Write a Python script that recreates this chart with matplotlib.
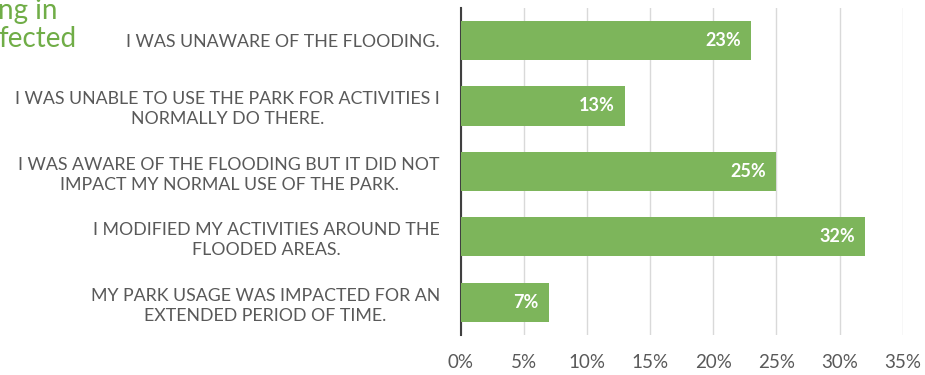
import matplotlib
matplotlib.use("Agg")
import matplotlib.pyplot as plt

# Data (top to bottom as shown in the chart)
answers = [
    "I WAS UNAWARE OF THE FLOODING.",
    "I WAS UNABLE TO USE THE PARK FOR ACTIVITIES I\nNORMALLY DO THERE.",
    "I WAS AWARE OF THE FLOODING BUT IT DID NOT\nIMPACT MY NORMAL USE OF THE PARK.",
    "I MODIFIED MY ACTIVITIES AROUND THE\nFLOODED AREAS.",
    "MY PARK USAGE WAS IMPACTED FOR AN\nEXTENDED PERIOD OF TIME.",
]
percents = [23, 13, 25, 32, 7]
xticks = [0, 5, 10, 15, 20, 25, 30, 35]

bar_color = "#7DB55B"
text_color = "#595959"

plt.rcParams["font.family"] = ["Lato", "DejaVu Sans"]

fig = plt.figure(figsize=(9.25, 3.75), dpi=100)
ax = fig.add_axes([0.498, 0.107, 0.478, 0.872])

ypos = list(range(len(answers)))
bars = ax.barh(ypos, percents, height=0.6, color=bar_color, zorder=3)

for b, v in zip(bars, percents):
    ax.text(b.get_width() - 0.8, b.get_y() + b.get_height() / 2, f"{v}%",
            ha="right", va="center", color="white", fontsize=13,
            fontweight="bold", zorder=4)

ax.set_xlim(0, 35)
ax.set_ylim(len(answers) - 0.5, -0.5)
ax.set_xticks(xticks)
ax.set_xticklabels([f"{t}%" for t in xticks], fontsize=13.5, color=text_color)
ax.set_yticks(ypos)
ax.set_yticklabels(answers, fontsize=12.8, color=text_color)
for lbl in ax.get_yticklabels():
    lbl.set_multialignment("center")
    lbl.set_linespacing(1.3)

ax.grid(axis="x", color="#D9D9D9", linewidth=1, zorder=0)
ax.tick_params(axis="both", length=0)
ax.tick_params(axis="y", pad=15)
ax.tick_params(axis="x", pad=14)

for side in ["top", "right", "bottom"]:
    ax.spines[side].set_visible(False)
ax.spines["left"].set_color("#404040")
ax.spines["left"].set_linewidth(1.5)

# cut-off heading fragment at the top left
fig.text(-0.002, 0.950, "ng in", fontsize=20, color="#70AD47",
         ha="left", va="baseline")
fig.text(-0.002, 0.875, "fected", fontsize=20, color="#70AD47",
         ha="left", va="baseline")

fig.savefig("out.png", dpi=100)
